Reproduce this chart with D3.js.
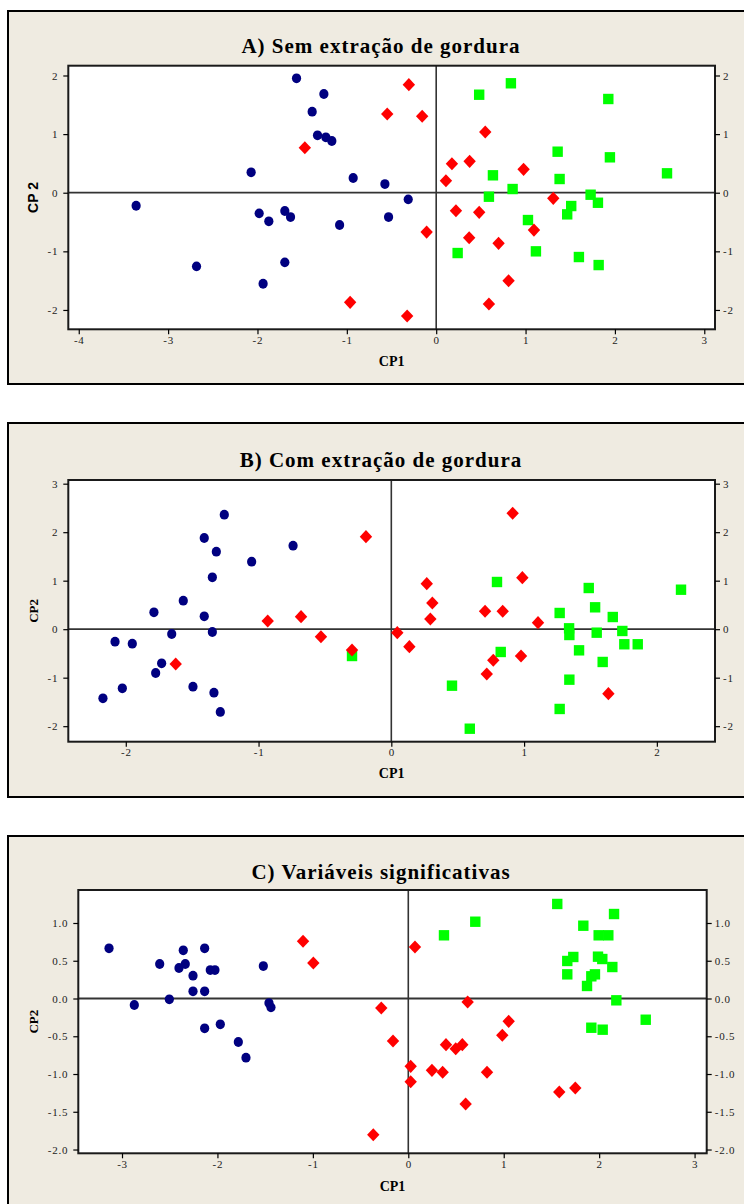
<!DOCTYPE html>
<html>
<head>
<meta charset="utf-8">
<script src="https://cdn.jsdelivr.net/npm/d3@7"></script>
<style>
  body { margin: 0; background: #fff; }
  svg { display: block; }
</style>
</head>
<body>
<div id="chart"></div>
<script>
// groups: navy circles, red diamonds, green squares  [CP1, CP2]
var aNavy = [[-1.563,1.952],[-1.257,1.684],[-1.388,1.382],[-1.328,0.979],[-1.235,0.945],[-1.168,0.882],
  [-2.071,0.348],[-0.929,0.251],[-0.574,0.148],[-3.358,-0.222],[-1.981,-0.352],[-1.873,-0.488],
  [-1.694,-0.312],[-1.630,-0.415],[-1.081,-0.551],[-0.533,-0.415],[-2.682,-1.256],[-1.694,-1.188],
  [-1.937,-1.553],[-0.313,-0.113]];
var aRed = [[-0.548,1.343],[-1.470,0.768],[-0.963,-1.870],[-0.306,1.843],[-0.157,1.304],[0.549,1.036],
  [0.176,0.495],[0.374,0.536],[0.109,0.205],[0.978,0.399],[1.310,-0.096],[0.221,-0.307],
  [0.481,-0.335],[-0.107,-0.671],[1.094,-0.637],[0.369,-0.768],[0.698,-0.864],[0.810,-1.502],
  [0.590,-1.899],[-0.325,-2.104]];
var aGreen = [[0.836,1.867],[0.481,1.672],[1.926,1.599],[1.359,0.700],[1.944,0.604],[2.583,0.331],
  [0.635,0.297],[1.381,0.234],[0.855,0.063],[0.590,-0.068],[1.728,-0.034],[1.810,-0.171],
  [1.511,-0.227],[1.466,-0.369],[1.027,-0.466],[0.240,-1.029],[1.116,-1.000],[1.597,-1.097],
  [1.818,-1.234]];

var bNavy = [[-1.258,2.361],[-1.409,1.880],[-1.318,1.598],[-0.740,1.722],[-1.052,1.392],[-1.348,1.070],
  [-1.567,0.588],[-1.788,0.348],[-1.409,0.266],[-1.654,-0.099],[-1.348,-0.058],[-2.081,-0.258],
  [-1.951,-0.299],[-1.730,-0.703],[-1.775,-0.903],[-2.026,-1.219],[-1.494,-1.186],[-1.336,-1.309],
  [-2.172,-1.425],[-1.288,-1.707]];
var bRed = [[-0.191,1.907],[-0.931,0.169],[-0.680,0.258],[-0.530,-0.155],[-0.296,-0.429],[-1.624,-0.718],
  [0.045,-0.072],[0.914,2.390],[0.267,0.938],[0.987,1.062],[0.309,0.540],[0.294,0.210],
  [0.706,0.369],[0.839,0.369],[1.105,0.134],[0.136,-0.361],[0.977,-0.553],[0.768,-0.641],
  [0.719,-0.924],[1.635,-1.330]];
var bGreen = [[-0.296,-0.553],[0.796,0.973],[1.487,0.849],[2.182,0.814],[1.535,0.451],[1.268,0.334],
  [1.668,0.251],[1.339,0.018],[1.341,-0.120],[1.547,-0.072],[1.740,-0.037],[1.755,-0.311],
  [1.856,-0.311],[1.414,-0.436],[0.824,-0.470],[1.592,-0.676],[1.341,-1.041],[0.457,-1.165],
  [1.268,-1.645],[0.591,-2.052]];

var cNavy = [[-3.136,0.665],[-2.358,0.638],[-2.134,0.665],[-2.605,0.457],[-2.403,0.404],[-2.337,0.457],
  [-2.256,0.302],[-2.075,0.377],[-2.026,0.377],[-1.519,0.430],[-2.256,0.095],[-2.134,0.095],
  [-2.871,-0.086],[-2.504,-0.011],[-1.460,-0.060],[-1.439,-0.117],[-2.134,-0.395],[-1.970,-0.342],
  [-1.781,-0.576],[-1.701,-0.784]];
var cRed = [[-1.103,0.758],[-0.995,0.470],[-0.283,-0.126],[-0.160,-0.563],[-0.367,-1.804],[0.070,0.682],
  [0.622,-0.046],[1.052,-0.302],[0.985,-0.487],[0.395,-0.611],[0.497,-0.665],[0.566,-0.611],
  [0.025,-0.898],[0.025,-1.102],[0.248,-0.951],[0.360,-0.977],[0.825,-0.977],[0.601,-1.397],
  [1.582,-1.238],[1.750,-1.185]];
var cGreen = [[1.561,1.252],[0.702,1.017],[0.374,0.837],[2.156,1.119],[1.834,0.964],[1.995,0.837],
  [2.096,0.837],[1.666,0.497],[1.729,0.550],[1.988,0.554],[2.033,0.523],[2.138,0.417],
  [1.666,0.320],[1.918,0.294],[1.956,0.320],[1.873,0.166],[2.180,-0.024],[2.488,-0.281],
  [1.918,-0.387],[2.037,-0.413]];

var aTicksX = [-4, -3, -2, -1, 0, 1, 2, 3];
var aTicksY = [-2, -1, 0, 1, 2];
var bTicksX = [-2, -1, 0, 1, 2];
var bTicksY = [-2, -1, 0, 1, 2, 3];
var cTicksX = [-3, -2, -1, 0, 1, 2, 3];
var cTicksY = [-2.0, -1.5, -1.0, -0.5, 0.0, 0.5, 1.0];

var titles = ["A) Sem extração de gordura", "B) Com extração de gordura", "C) Variáveis significativas"];

var serif = "'Liberation Serif', 'Times New Roman', serif";
var sans = "'Liberation Sans', Arial, sans-serif";

var width = 744, height = 1204;
var svg = d3.select("#chart").append("svg")
  .attr("width", width)
  .attr("height", height);

var intFmt = function(d) { return String(d); };
var decFmt = function(d) { return d.toFixed(1); };

var panels = [
  { title: titles[0], box: [8, 11, 746, 373], plot: [68.3, 65.7, 646.7, 263.6],
    xd: [-4.117, 3.12], yd: [-2.33, 2.167], xt: aTicksX, yt: aTicksY, yfmt: intFmt,
    navy: aNavy, red: aRed, green: aGreen, titleY: 53, xlabY: 366, ylab: "CP 2", ylabSans: true },
  { title: titles[1], box: [8, 423, 746, 374], plot: [68.3, 480, 646.7, 261.7],
    xd: [-2.433, 2.438], yd: [-2.32, 3.076], xt: bTicksX, yt: bTicksY, yfmt: intFmt,
    navy: bNavy, red: bRed, green: bGreen, titleY: 467, xlabY: 778, ylab: "CP2", ylabSans: false },
  { title: titles[2], box: [8, 836, 746, 380], plot: [78.3, 890, 628.4, 263.3],
    xd: [-3.458, 3.127], yd: [-2.05, 1.437], xt: cTicksX, yt: cTicksY, yfmt: decFmt,
    navy: cNavy, red: cRed, green: cGreen, titleY: 879, xlabY: 1191, ylab: "CP2", ylabSans: false }
];

panels.forEach(function(p) {
  var g = svg.append("g");
  g.append("rect")
    .attr("x", p.box[0]).attr("y", p.box[1])
    .attr("width", p.box[2]).attr("height", p.box[3])
    .style("fill", "#efebe1").style("stroke", "#000").style("stroke-width", 2);

  var x0 = p.plot[0], y0 = p.plot[1], w = p.plot[2], h = p.plot[3];
  var x = d3.scaleLinear().domain(p.xd).range([x0, x0 + w]);
  var y = d3.scaleLinear().domain(p.yd).range([y0 + h, y0]);

  g.append("rect")
    .attr("x", x0).attr("y", y0).attr("width", w).attr("height", h)
    .style("fill", "#fff");

  // reference lines at zero
  g.append("line")
    .attr("x1", x(0)).attr("x2", x(0)).attr("y1", y0).attr("y2", y0 + h)
    .style("stroke", "#333").style("stroke-width", 1.6);
  g.append("line")
    .attr("x1", x0).attr("x2", x0 + w).attr("y1", y(0)).attr("y2", y(0))
    .style("stroke", "#333").style("stroke-width", 1.8);

  // points
  g.selectAll(".sq").data(p.green).enter().append("rect")
    .attr("x", function(d) { return x(d[0]) - 5.2; })
    .attr("y", function(d) { return y(d[1]) - 5.2; })
    .attr("width", 10.4).attr("height", 10.4)
    .style("fill", "#00ff00");
  g.selectAll(".dot").data(p.navy).enter().append("ellipse")
    .attr("cx", function(d) { return x(d[0]); })
    .attr("cy", function(d) { return y(d[1]); })
    .attr("rx", 4.6).attr("ry", 4.9)
    .style("fill", "#000080");
  var dia = d3.symbol().type(d3.symbolDiamond2).size(98);
  g.selectAll(".dia").data(p.red).enter().append("path")
    .attr("d", dia)
    .attr("transform", function(d) { return "translate(" + x(d[0]) + "," + y(d[1]) + ") scale(1,1.06)"; })
    .style("fill", "#ff0000");

  // frame
  g.append("rect")
    .attr("x", x0).attr("y", y0).attr("width", w).attr("height", h)
    .style("fill", "none").style("stroke", "#1a1a1a").style("stroke-width", 2);

  // axes
  var axes = [
    g.append("g").attr("transform", "translate(0," + (y0 + h) + ")")
      .call(d3.axisBottom(x).tickValues(p.xt).tickFormat(intFmt).tickSize(5).tickPadding(2)),
    g.append("g").attr("transform", "translate(" + x0 + ",0)")
      .call(d3.axisLeft(y).tickValues(p.yt).tickFormat(p.yfmt).tickSize(5).tickPadding(5)),
    g.append("g").attr("transform", "translate(" + (x0 + w) + ",0)")
      .call(d3.axisRight(y).tickValues(p.yt).tickFormat(p.yfmt).tickSize(5).tickPadding(3))
  ];
  axes.forEach(function(a) {
    a.select(".domain").remove();
    a.selectAll("line").style("stroke", "#000").style("stroke-width", 1.2);
    a.selectAll("text").style("font-family", serif).style("font-size", "11px")
      .style("letter-spacing", "0.8px").style("fill", "#222");
  });

  g.append("text")
    .attr("x", 381).attr("y", p.titleY)
    .attr("text-anchor", "middle")
    .style("font-family", serif).style("font-weight", "bold")
    .style("font-size", "21px").style("letter-spacing", "1px")
    .text(p.title);

  g.append("text")
    .attr("x", x0 + w / 2).attr("y", p.xlabY)
    .attr("text-anchor", "middle")
    .style("font-family", serif).style("font-weight", "bold").style("font-size", "14px")
    .text("CP1");

  g.append("text")
    .attr("transform", "translate(38," + (y0 + h / 2) + ") rotate(-90)")
    .attr("text-anchor", "middle")
    .style("font-family", p.ylabSans ? sans : serif).style("font-weight", "bold")
    .style("font-size", p.ylabSans ? "14px" : "13px")
    .text(p.ylab);
});
</script>
</body>
</html>
